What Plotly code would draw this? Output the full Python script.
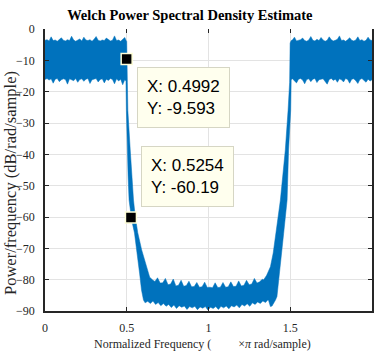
import plotly.graph_objects as go

# -------------------------------------------------------------------------------------
# Dados (dB/rad/sample vs frequencia normalizada x pi)
# faixa de passagem esquerda
pass1_freq = [0.0, 0.0125, 0.025, 0.0375, 0.05, 0.0625, 0.075, 0.0875, 0.1, 0.1125,
              0.125, 0.1375, 0.15, 0.1625, 0.175, 0.1875, 0.2, 0.2125, 0.225, 0.2375,
              0.25, 0.2625, 0.275, 0.2875, 0.3, 0.3125, 0.325, 0.3375, 0.35, 0.3625,
              0.375, 0.3875, 0.4, 0.4125, 0.425, 0.4375, 0.45, 0.4625, 0.475, 0.4875, 0.495]
pass1_top = [-3.6, -3.4, -3.8, -2.5, -3.7, -3.5, -3.9, -3.3, -2.8, -3.6,
             -3.8, -3.4, -3.7, -2.3, -3.5, -3.9, -3.6, -3.2, -3.8, -2.6,
             -3.5, -3.7, -3.4, -3.9, -3.3, -2.4, -3.6, -3.8, -3.5, -3.7,
             -2.9, -3.4, -3.8, -3.6, -2.2, -3.7, -3.5, -3.9, -3.3, -2.7, -3.6]
pass1_bot = [-16.1, -15.8, -16.3, -15.9, -17.3, -16.0, -15.8, -16.8, -16.2, -15.9,
             -16.1, -17.6, -15.9, -16.2, -16.5, -15.8, -17.0, -16.1, -15.9, -16.7,
             -16.0, -15.8, -17.4, -16.2, -16.0, -15.8, -16.9, -16.1, -15.9, -17.2,
             -16.0, -16.4, -15.8, -16.1, -17.5, -15.9, -16.6, -16.0, -17.8, -16.2, -16.6]

# queda (lado de cima / lado de baixo da curva)
fall_top_freq = [0.4995, 0.5035, 0.5065, 0.521, 0.531, 0.541, 0.552, 0.567, 0.591, 0.616, 0.640, 0.660]
fall_top = [-4.0, -17.0, -26.0, -38.6, -47.0, -54.6, -60.0, -65.0, -70.5, -75.3, -79.2, -80.2]
fall_bot_freq = [0.4955, 0.4975, 0.503, 0.508, 0.514, 0.522, 0.530, 0.547, 0.559, 0.578, 0.590, 0.602]
fall_bot = [-18.0, -26.0, -38.6, -47.0, -54.6, -58.5, -61.0, -65.1, -70.5, -77.9, -83.3, -86.5]

# faixa de rejeicao (chao)
stop_top_freq = [0.672, 0.688, 0.704, 0.72, 0.736, 0.752, 0.768, 0.784, 0.8, 0.816,
                 0.832, 0.848, 0.864, 0.88, 0.896, 0.912, 0.928, 0.944, 0.96, 0.976,
                 0.992, 1.008, 1.024, 1.04, 1.056, 1.072, 1.088, 1.104, 1.12, 1.136,
                 1.152, 1.168, 1.184, 1.2, 1.216, 1.232, 1.248, 1.264, 1.28, 1.296,
                 1.312, 1.328]
stop_top = [-80.6, -79.4, -81.1, -81.0, -79.6, -81.6, -81.4, -79.8, -82.0, -81.8,
            -80.2, -82.1, -81.9, -80.5, -82.3, -82.2, -80.9, -82.4, -82.3, -80.8,
            -82.5, -82.4, -82.6, -81.0, -82.5, -82.4, -80.9, -82.4, -82.3, -80.7,
            -82.2, -82.1, -80.4, -82.0, -81.8, -80.2, -81.6, -81.4, -79.6, -81.1,
            -80.7, -79.9]
stop_bot_freq = [0.612, 0.628, 0.644, 0.66, 0.676, 0.692, 0.708, 0.724, 0.74, 0.756,
                 0.772, 0.788, 0.804, 0.82, 0.836, 0.852, 0.868, 0.884, 0.9, 0.916,
                 0.932, 0.948, 0.964, 0.98, 0.996, 1.012, 1.028, 1.044, 1.06, 1.076,
                 1.092, 1.108, 1.124, 1.14, 1.156, 1.172, 1.188, 1.204, 1.22, 1.236,
                 1.252, 1.268, 1.284, 1.3, 1.316, 1.332, 1.348, 1.36]
stop_bot = [-87.4, -86.9, -87.6, -86.8, -87.9, -87.3, -88.3, -87.6, -88.5, -87.9,
            -88.9, -88.1, -89.2, -88.3, -88.8, -88.4, -89.5, -88.6, -89.0, -88.5,
            -89.6, -88.7, -89.1, -88.6, -89.7, -88.8, -89.2, -88.6, -89.5, -88.5,
            -89.0, -88.4, -89.3, -88.3, -88.7, -88.1, -89.0, -87.9, -88.4, -87.7,
            -88.5, -87.4, -87.9, -87.1, -87.6, -86.8, -87.3, -86.6]

# subida
rise_top_freq = [1.337, 1.355, 1.378, 1.395, 1.409, 1.425, 1.439, 1.455, 1.469, 1.486, 1.4955, 1.4985]
rise_top = [-80.0, -78.6, -75.9, -71.5, -65.2, -60.0, -54.6, -46.5, -38.6, -25.9, -17.0, -4.5]
rise_bot_freq = [1.366, 1.378, 1.388, 1.409, 1.418, 1.430, 1.439, 1.459, 1.480, 1.489, 1.502, 1.5045]
rise_bot = [-86.5, -88.6, -88.4, -86.5, -85.4, -80.5, -75.9, -65.2, -54.6, -38.6, -25.9, -17.5]

# faixa de passagem direita
pass2_freq = [1.505, 1.5125, 1.525, 1.5375, 1.55, 1.5625, 1.575, 1.5875, 1.6, 1.6125,
              1.625, 1.6375, 1.65, 1.6625, 1.675, 1.6875, 1.7, 1.7125, 1.725, 1.7375,
              1.75, 1.7625, 1.775, 1.7875, 1.8, 1.8125, 1.825, 1.8375, 1.85, 1.8625,
              1.875, 1.8875, 1.9, 1.9125, 1.925, 1.9375, 1.95, 1.9625, 1.975, 1.9875, 2.0]
pass2_top = [-3.7, -3.5, -2.6, -3.8, -3.6, -3.4, -2.9, -3.7, -3.9, -3.5,
             -2.4, -3.6, -3.8, -3.3, -3.7, -2.7, -3.5, -3.9, -3.6, -2.5,
             -3.4, -3.8, -3.6, -3.3, -2.2, -3.7, -3.5, -3.9, -3.4, -2.8,
             -3.6, -3.8, -3.5, -2.5, -3.7, -3.4, -3.9, -3.6, -2.6, -3.5, -3.7]
pass2_bot = [-16.2, -15.9, -16.6, -17.2, -16.0, -15.8, -16.3, -17.5, -16.1, -15.9,
             -16.8, -16.0, -15.8, -17.1, -16.2, -16.0, -15.9, -16.7, -17.6, -16.1,
             -15.8, -16.4, -16.0, -17.0, -15.9, -16.2, -16.9, -15.8, -16.1, -17.3,
             -16.0, -15.9, -16.5, -17.4, -16.1, -15.8, -16.3, -17.0, -16.0, -16.6, -16.2]

# data tips
tip_x = [0.4992, 0.5254]
tip_y = [-9.593, -60.19]
# -------------------------------------------------------------------------------------

azul = '#0072BD'
serif = 'Liberation Serif, Times New Roman, serif'
sans = 'Liberation Sans, Arial, sans-serif'

# contorno da faixa de ruido: borda de cima + borda de baixo invertida
borda_sup_x = pass1_freq + fall_top_freq + stop_top_freq + rise_top_freq + pass2_freq
borda_sup_y = pass1_top + fall_top + stop_top + rise_top + pass2_top
borda_inf_x = pass1_freq + fall_bot_freq + stop_bot_freq + rise_bot_freq + pass2_freq
borda_inf_y = pass1_bot + fall_bot + stop_bot + rise_bot + pass2_bot

fig = go.Figure()
fig.add_trace(go.Scatter(
    x=borda_sup_x + borda_inf_x[::-1],
    y=borda_sup_y + borda_inf_y[::-1],
    mode='lines',
    fill='toself',
    fillcolor=azul,
    line=dict(color=azul, width=0.5),
    hoverinfo='skip',
    showlegend=False
))

# marcadores dos data tips (no eixo x2 para ter os ticks de cima)
fig.add_trace(go.Scatter(
    x=tip_x, y=tip_y,
    xaxis='x2',
    mode='markers',
    marker=dict(symbol='square', size=11, color='black',
                line=dict(color='#FFFFD9', width=1.5)),
    showlegend=False
))

caixas = [(0.561, -12.1), (0.585, -37.3)]
for (bx, by), xv, yv in zip(caixas, tip_x, tip_y):
    fig.add_annotation(
        x=bx, y=by, xref='x', yref='y',
        xanchor='left', yanchor='top',
        text=f'X: {xv}<br>Y: {yv}',
        align='left',
        showarrow=False,
        font=dict(family=sans, size=17, color='black'),
        bgcolor='#FFFFEE',
        bordercolor='#D6D6C4',
        borderwidth=1,
        borderpad=9
    )

# rotulos dos eixos
fig.add_annotation(
    x=0.143, y=-0.1186, xref='paper', yref='paper',
    xanchor='left', yanchor='middle',
    text='Normalized Frequency (' + '\u00a0' * 9 + '\u00d7<i>\u03c0</i> rad/sample)',
    showarrow=False,
    font=dict(family=serif, size=12, color='#262626')
)
fig.add_annotation(
    x=-0.106, y=0.455, xref='paper', yref='paper',
    xanchor='center', yanchor='middle',
    text='Power/frequency (dB/rad/sample)',
    textangle=-90,
    showarrow=False,
    font=dict(family=serif, size=16.5, color='#262626')
)

eixo = dict(
    ticks='inside', ticklen=4, tickcolor='#262626', tickwidth=1,
    showline=True, linecolor='#262626', linewidth=1.5,
    showgrid=True, gridcolor='#E3E3E3', gridwidth=1,
    zeroline=False,
    tickfont=dict(family=serif, size=12, color='#262626')
)

fig.update_layout(
    width=382, height=354,
    margin=dict(l=45, r=8, t=29, b=42.5),
    paper_bgcolor='white', plot_bgcolor='white',
    title=dict(text='<b>Welch Power Spectral Density Estimate</b>',
               x=0.497, xanchor='center', y=0.958, yanchor='middle',
               font=dict(family=serif, size=14.5, color='black')),
    xaxis=dict(eixo, range=[0, 1.999], tickvals=[0, 0.5, 1, 1.5],
               ticktext=['0', '0.5', '1', '1.5'], ticklabelstandoff=5),
    xaxis2=dict(overlaying='x', side='top', range=[0, 1.999],
                tickvals=[0, 0.5, 1, 1.5], ticks='inside', ticklen=4,
                tickcolor='#262626', showticklabels=False, showline=False,
                showgrid=False, zeroline=False),
    yaxis=dict(eixo, range=[-90, 0], dtick=10, mirror='ticks', ticklabelstandoff=6),
    showlegend=False
)

# tira a margem padrao de 8px do body para a figura ocupar a janela toda
fig.write_html("out.html", config={'displayModeBar': False},
               post_script="document.body.style.margin = '0px';")
